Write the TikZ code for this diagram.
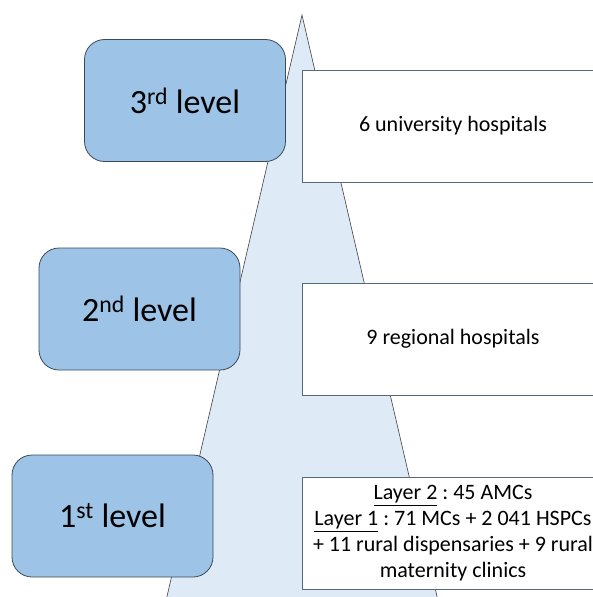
\documentclass[tikz,border=0pt]{standalone}
\usepackage{fontspec}
\setmainfont{Carlito}
\usepackage{tikz}
\usetikzlibrary{
	positioning,
	calc
}
\definecolor{levelblue}{RGB}{157,195,230}
\definecolor{pyramidblue}{RGB}{222,235,247}
\definecolor{levelline}{RGB}{60,75,90}
\definecolor{infoline}{RGB}{85,105,120}
\frenchspacing

\begin{document}
\begin{tikzpicture}[
			x=1pt, y=-1pt,
			level/.style={
				rectangle, draw=levelline, rounded corners=20pt,
				minimum width=201pt, minimum height=122pt,
				align=center, fill=levelblue, font=\fontsize{34}{40}\selectfont,
				line width=0.8pt
			},
			info/.style={
				rectangle, draw=infoline, fill=white,
				minimum width=302pt, minimum height=112pt,
				align=center, font=\fontsize{22}{26}\selectfont,
				line width=0.8pt
			},
			pyramid/.style={draw=black!75, fill=pyramidblue, line width=0.6pt}
			]
			
			\useasboundingbox (0,0) rectangle (593,597);
			\clip (0,0) rectangle (593,597);
			
			% ---------------- pyramid ----------------
			\coordinate (apex) at (302,15);
			\coordinate (baseL) at (165,605);
			\coordinate (baseR) at (439,605);
			\draw[pyramid] (apex) -- (baseL) -- (baseR) -- cycle;
			
			% ---------------- 3rd level ----------------
			\node[level] (lvlThree) at (185,100.5) {3\textsuperscript{rd} level};
			\node[info] (uniHosp) at (453,126) {6 university hospitals};
			
			% ---------------- 2nd level ----------------
			\node[level] (lvlTwo) at (139.5,309) {2\textsuperscript{nd} level};
			\node[info] (regHosp) at (453,339) {9 regional hospitals};
			
			% ---------------- 1st level ----------------
			\node[level] (lvlOne) at (112.5,516) {1\textsuperscript{st} level};
			\node[info] (primCare) at (453,533.5) {
				\underline{Layer 2} : 45 AMCs\\
				\underline{Layer 1} : 71 MCs + 2 041 HSPCs\\
				+ 11 rural dispensaries + 9 rural\\
				maternity clinics
			};
		\end{tikzpicture}
\end{document}
